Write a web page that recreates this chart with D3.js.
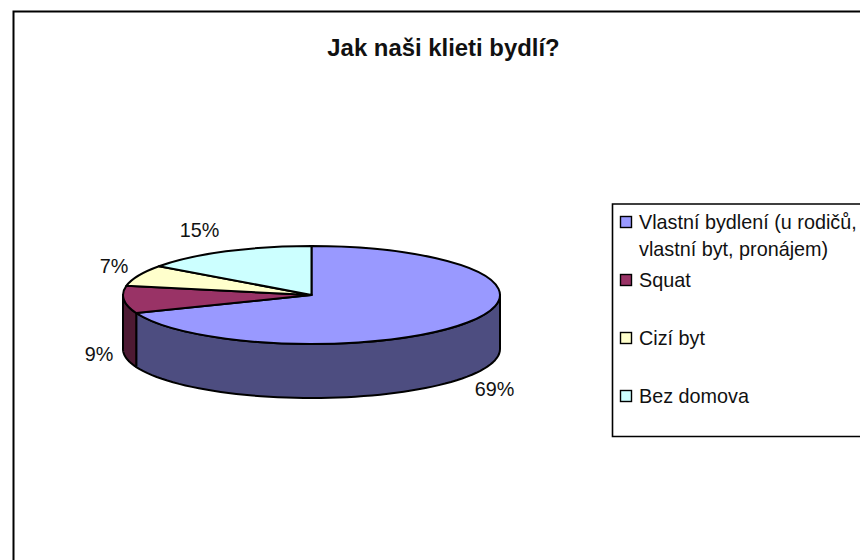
<!DOCTYPE html>
<html><head><meta charset="utf-8">
<script src="https://cdnjs.cloudflare.com/ajax/libs/d3/7.8.5/d3.min.js"></script>
<style>html,body{margin:0;padding:0;background:#fff}svg{display:block}text{font-family:"Liberation Sans",Arial,sans-serif;fill:#111}</style>
</head><body><svg id="c" width="860" height="560"></svg>
<script>
const title = "Jak naši klieti bydlí?";
const categories = ["Vlastní bydlení (u rodičů,|vlastní byt, pronájem)", "Squat", "Cizí byt", "Bez domova"];
const values = [69, 9, 7, 15];
const labels = ["69%", "9%", "7%", "15%"];
const topColors = ["#9999ff", "#993366", "#ffffcc", "#ccffff"];
const sideColors = ["#4d4d80", "#4d1a33", "#808066", "#668080"];

const cx = 311.5, cy = 295, rx = 188.5, ry = 49, depth = 54;
const svg = d3.select("#c");

// chart frame
svg.append("path").attr("d", "M13.5 560V11.5H860").attr("fill", "none").attr("stroke", "#000").attr("stroke-width", 2);

svg.append("text").attr("x", 443.5).attr("y", 56).attr("text-anchor", "middle")
  .attr("font-weight", "bold").attr("font-size", 23.9).text(title);

const arcs = d3.pie().sort(null).value(d => d)(values);
const px = t => cx + rx * Math.sin(t), py = t => cy - ry * Math.cos(t);

// side walls (front half of the ellipse only)
const frontA = Math.PI / 2, frontB = 3 * Math.PI / 2;
arcs.forEach((a, i) => {
  const s = Math.max(a.startAngle, frontA), e = Math.min(a.endAngle, frontB);
  if (e <= s) return;
  const ts = d3.range(0, 61).map(k => s + (e - s) * k / 60);
  const top = ts.map(t => [px(t), py(t)]);
  const bot = ts.slice().reverse().map(t => [px(t), py(t) + depth]);
  svg.append("path").attr("d", d3.line()(top.concat(bot)) + "Z")
    .attr("fill", sideColors[i]).attr("stroke", "#000").attr("stroke-width", 2).attr("stroke-linejoin", "round");
});

// top face
const arc = d3.arc().innerRadius(0).outerRadius(rx);
svg.append("g").attr("transform", `translate(${cx},${cy}) scale(1,${ry / rx})`)
  .selectAll("path").data(arcs).join("path")
  .attr("d", arc).attr("fill", (d, i) => topColors[i])
  .attr("stroke", "#000").attr("stroke-width", 2).attr("stroke-linejoin", "round")
  .attr("vector-effect", "non-scaling-stroke");

// data labels
const labelPos = [[494.5, 396], [99, 361], [114, 273], [199.5, 237]];
svg.selectAll("text.l").data(labels).join("text").attr("class", "l")
  .attr("x", (d, i) => labelPos[i][0]).attr("y", (d, i) => labelPos[i][1])
  .attr("text-anchor", "middle").attr("font-size", 19.8).text(d => d);

// legend
svg.append("path").attr("d", "M860 204H612.5V436.5H860").attr("fill", "none").attr("stroke", "#000").attr("stroke-width", 1.6);
const rowY = [229, 287, 345, 403];
const lg = svg.selectAll("g.lg").data(categories).join("g").attr("class", "lg")
  .attr("transform", (d, i) => `translate(0,${rowY[i]})`);
lg.append("rect").attr("x", 620.5).attr("y", -12.5).attr("width", 11).attr("height", 11)
  .attr("fill", (d, i) => topColors[i]).attr("stroke", "#000").attr("stroke-width", 1.4);
lg.each(function (d) {
  d.split("|").forEach((s, k) => {
    d3.select(this).append("text").attr("x", 639).attr("y", k * 27).attr("font-size", 19.8).text(s);
  });
});
</script></body></html>
